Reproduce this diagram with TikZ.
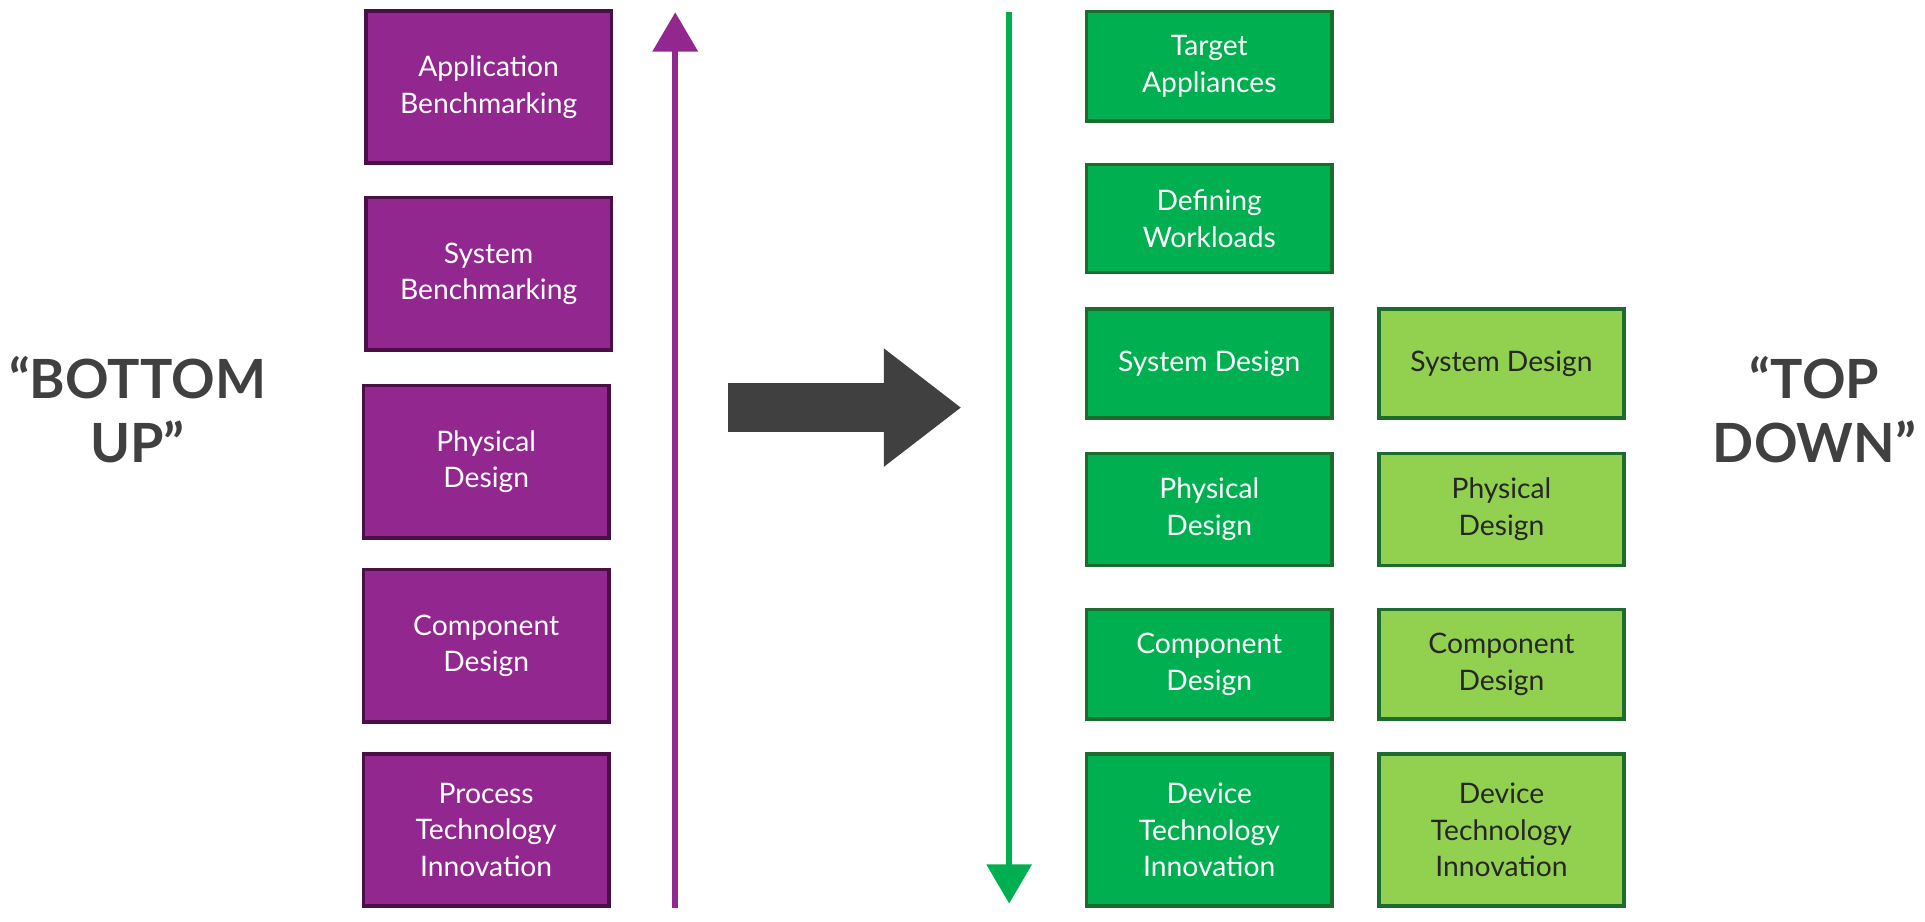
\documentclass[tikz,border=0pt]{standalone}
\usepackage{fontspec}
\setmainfont{Lato}
\usetikzlibrary{positioning,arrows.meta}
\definecolor{purplebox}{HTML}{92278F}
\definecolor{purpleline}{HTML}{4A1046}
\definecolor{darkgreen}{HTML}{00B050}
\definecolor{lightgreen}{HTML}{92D050}
\definecolor{greenline}{HTML}{1E6B2E}
\definecolor{arrowgray}{HTML}{404040}
\tikzset{
  stage/.style={draw, line width=3pt, minimum width=200pt, align=center,
    text=white, font=\fontsize{23}{30}\selectfont, inner sep=0pt},
  purplestage/.style={stage, fill=purplebox, draw=purpleline, minimum height=124pt},
  greenstage/.style={stage, fill=darkgreen, draw=greenline},
  limestage/.style={stage, fill=lightgreen, draw=greenline, text=black!85},
  approach/.style={text=arrowgray, font=\fontsize{44}{52}\selectfont\bfseries, align=center}
}
\begin{document}
\begin{tikzpicture}[x=1pt,y=-1pt]
\useasboundingbox (0,0) rectangle (1568,751);
% bottom up column
\node [purplestage] (app) at (398,71) {Application\\Benchmarking};
\node [purplestage] (sysb) at (398,223) {System\\Benchmarking};
\node [purplestage] (phys) at (396,376) {Physical\\Design};
\node [purplestage] (comp) at (396,526) {Component\\Design};
\node [purplestage] (proc) at (396,676) {Process\\Technology\\Innovation};
\coordinate (upfoot) at (550,740);
\coordinate (uphead) at (550,10);
\draw [-{Triangle[length=32pt,width=36pt]}, line width=5pt, purplebox] (upfoot) -- (uphead);
% shift arrow
\coordinate (shiftfoot) at (593,332);
\coordinate (shifthead) at (783,332);
\draw [-{Triangle[length=63pt,width=92pt]}, line width=40pt, arrowgray] (shiftfoot) -- (shifthead);
% top down columns
\coordinate (downfoot) at (822,10);
\coordinate (downhead) at (822,736);
\draw [-{Triangle[length=32pt,width=36pt]}, line width=5pt, darkgreen] (downfoot) -- (downhead);
\node [greenstage, minimum height=89pt] (target) at (985,54) {Target\\Appliances};
\node [greenstage, minimum height=88pt] (work) at (985,178) {Defining\\Workloads};
\node [greenstage, minimum height=89pt] (sysd) at (985,296) {System Design};
\node [greenstage, minimum height=91pt] (physd) at (985,415) {Physical\\Design};
\node [greenstage, minimum height=89pt] (compd) at (985,541) {Component\\Design};
\node [greenstage, minimum height=124pt] (dev) at (985,676) {Device\\Technology\\Innovation};
\node [limestage, minimum height=89pt] (sysl) at (1223,296) {System Design};
\node [limestage, minimum height=91pt] (physl) at (1223,415) {Physical\\Design};
\node [limestage, minimum height=89pt] (compl) at (1223,541) {Component\\Design};
\node [limestage, minimum height=124pt] (devl) at (1223,676) {Device\\Technology\\Innovation};
% labels
\node [approach] (bottomup) at (112,334) {“BOTTOM\\UP”};
\node [approach] (topdown) at (1478,334) {“TOP\\DOWN”};
\end{tikzpicture}
\end{document}
